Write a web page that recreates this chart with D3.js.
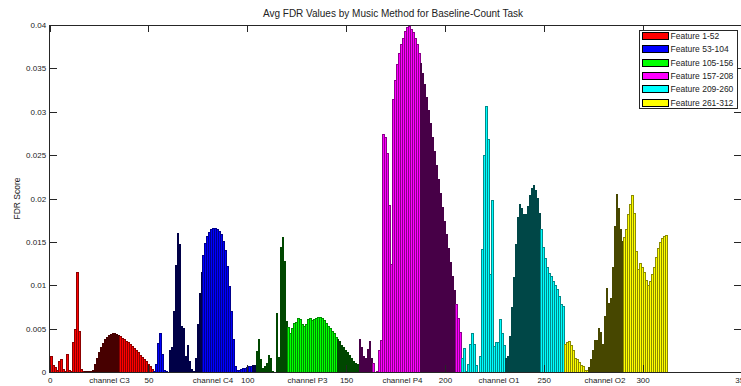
<!DOCTYPE html>
<html>
<head>
<meta charset="utf-8">
<script src="https://cdn.jsdelivr.net/npm/d3@7"></script>
<style>
  body { margin: 0; background: #fff; }
  text { font-family: "Liberation Sans", Arial, sans-serif; fill: #222; }
</style>
</head>
<body>
<div id="chart"></div>
<script>
// FDR score per feature, 52 features per channel
const c3 = [0.0018, 0.0007, 0.0005, 0.0002, 0.0012, 0.0014, 0.0003, 0.0001, 0.0020, 0.0002,
  0.0001, 0.0034, 0.0049, 0.0115, 0.0047, 0.0003, 0.0001, 0.00005, 0.0001, 0.00005,
  0.0001, 0.0002, 0.0009, 0.0016, 0.0023, 0.0028, 0.0033, 0.0037, 0.0040, 0.0042,
  0.00435, 0.00445, 0.0044, 0.0043, 0.0042, 0.00405, 0.0039, 0.00375, 0.00355, 0.00335,
  0.00315, 0.0029, 0.0027, 0.00245, 0.0022, 0.00195, 0.0017, 0.00145, 0.0012, 0.0009,
  0.0006, 0.0003];
const c4 = [0.0001, 0.0009, 0.0033, 0.0044, 0.0020, 0.0002, 0.0001, 0.0000, 0.0025, 0.0028,
  0.0070, 0.0123, 0.0160, 0.0147, 0.0052, 0.0050, 0.0018, 0.0030, 0.0012, 0.0003,
  0.0001, 0.0015, 0.0055, 0.0090, 0.0115, 0.0134, 0.0148, 0.0156, 0.0161, 0.0164,
  0.0165, 0.0165, 0.0164, 0.0162, 0.0158, 0.0151, 0.0140, 0.0122, 0.0098, 0.0070,
  0.0038, 0.0006, 0.00015, 0.0002, 0.0003, 0.00035, 0.0004, 0.0005, 0.0006, 0.00065,
  0.0007, 0.0007];
const p3 = [0.0024, 0.0037, 0.0014, 0.0004, 0.0006, 0.0010, 0.0019, 0.0015, 0.0001, 0.0000,
  0.0068, 0.0017, 0.0143, 0.0155, 0.0127, 0.0058, 0.0051, 0.0044, 0.0050, 0.0056,
  0.0057, 0.0062, 0.0061, 0.0055, 0.0053, 0.0055, 0.0060, 0.0062, 0.0059, 0.0060,
  0.0062, 0.0063, 0.0063, 0.0062, 0.0059, 0.0056, 0.0053, 0.0050, 0.0047, 0.0044,
  0.0040, 0.0038, 0.0035, 0.0031, 0.0028, 0.0025, 0.0022, 0.0019, 0.0016, 0.0012,
  0.0010, 0.0009];
const p4 = [0.0038, 0.0028, 0.0018, 0.0015, 0.0026, 0.0035, 0.0016, 0.0010, 0.0000, 0.0001,
  0.0025, 0.0036, 0.0274, 0.0270, 0.0252, 0.0192, 0.0124, 0.0314, 0.0336, 0.0354,
  0.0367, 0.0377, 0.0385, 0.0392, 0.0397, 0.0398, 0.0395, 0.0391, 0.0385, 0.0377,
  0.0367, 0.0356, 0.0344, 0.0331, 0.0317, 0.0302, 0.0286, 0.0270, 0.0254, 0.0238,
  0.0222, 0.0206, 0.0190, 0.0174, 0.0158, 0.0142, 0.0126, 0.0110, 0.0094, 0.0078,
  0.0062, 0.0045];
const o1 = [0.0016, 0.0027, 0.0001, 0.0009, 0.0032, 0.0044, 0.0032, 0.0008, 0.0000, 0.0018,
  0.0141, 0.0250, 0.0306, 0.0268, 0.0112, 0.0198, 0.0029, 0.0034, 0.0034, 0.0060,
  0.0044, 0.0031, 0.0016, 0.0018, 0.0041, 0.0074, 0.0109, 0.0147, 0.0178, 0.0193,
  0.0189, 0.0181, 0.0182, 0.0191, 0.0204, 0.0212, 0.0215, 0.0209, 0.0200, 0.0183,
  0.0164, 0.0143, 0.0131, 0.0120, 0.0114, 0.0110, 0.0104, 0.0100, 0.0095, 0.0087,
  0.0078, 0.0076];
const o2 = [0.0032, 0.0034, 0.0035, 0.0031, 0.0025, 0.0016, 0.0014, 0.0011, 0.0008, 0.0006,
  0.00015, 0.00015, 0.0005, 0.0014, 0.0025, 0.0036, 0.0036, 0.0050, 0.0045, 0.0032,
  0.0064, 0.0096, 0.0079, 0.0085, 0.0120, 0.0168, 0.0205, 0.0188, 0.0164, 0.0150,
  0.0155, 0.0164, 0.0181, 0.0193, 0.0204, 0.0183, 0.0139, 0.0118, 0.0125, 0.0121,
  0.0115, 0.0106, 0.0100, 0.0104, 0.0112, 0.0121, 0.0132, 0.0142, 0.0149, 0.0154,
  0.0156, 0.0157];

const channels = ["channel C3", "channel C4", "channel P3", "channel P4", "channel O1", "channel O2"];
const channelPos = [30.3, 82.7, 130.5, 178.5, 227.4, 281];
const legendLabels = ["Feature 1-52", "Feature 53-104", "Feature 105-156",
  "Feature 157-208", "Feature 209-260", "Feature 261-312"];
const colors = ["#ff0000", "#0000ff", "#00ff00", "#ff00ff", "#00ffff", "#ffff00"];
const xTicks = [0, 50, 100, 150, 200, 250, 300, 350];
const yTicks = [0, 0.005, 0.01, 0.015, 0.02, 0.025, 0.03, 0.035, 0.04];

const width = 741, height = 386;

const svg = d3.select("#chart").append("svg")
  .attr("width", width)
  .attr("height", height);

// right edge of the axes falls just outside the window, as in the reference
const x = d3.scaleLinear().domain([0, 350]).range([49.62, 741.4]);
const y = d3.scaleLinear().domain([0, 0.04]).range([372, 25]);

const series = [c3, c4, p3, p4, o1, o2];
const bars = series.flatMap((s, g) => s.map((v, j) => ({ idx: g * 52 + j + 1, value: v, group: g })));

// matlab draws the bars without anti-aliasing: snap every edge to a whole pixel
const base = Math.round(y(0));
bars.forEach(d => {
  d.L = Math.floor(x(d.idx - 0.4));
  d.R = Math.floor(x(d.idx + 0.4));
  d.T = Math.min(base, Math.floor(y(d.value)));
});
// the screenshot is a bit soft, so the black edges pick up some of the bar colour
const edgeColor = (c, k) => {
  const r = d3.rgb(c);
  return d3.rgb(r.r * k, r.g * k, r.b * k).formatHex();
};

const cells = svg.append("g")
  .attr("shape-rendering", "crispEdges")
  .selectAll("g")
  .data(bars)
  .join("g");
cells.append("rect")
  .attr("x", d => d.L)
  .attr("width", d => d.R - d.L + 1)
  .attr("y", d => d.T)
  .attr("height", d => base - d.T)
  .attr("fill", d => edgeColor(colors[d.group], d.R - d.L > 1 ? 0.55 : 0.28));
cells.filter(d => d.R - d.L > 1 && base - d.T > 1)
  .append("rect")
  .attr("x", d => d.L + 1)
  .attr("width", d => d.R - d.L - 1)
  .attr("y", d => d.T + 1)
  .attr("height", d => base - d.T - 1)
  .attr("fill", d => colors[d.group]);

// ticks point inward on all four sides
const tickLen = -7;
const styleAxis = g => {
  g.select(".domain").remove();
  g.selectAll("line").attr("stroke", "#262626").attr("shape-rendering", "crispEdges");
  g.selectAll("text").attr("font-size", 8).attr("fill", "#222");
};

svg.append("g")
  .attr("transform", `translate(0,${y(0)})`)
  .call(d3.axisBottom(x).tickValues(xTicks).tickSize(tickLen).tickPadding(5.3).tickFormat(d3.format("d")))
  .call(styleAxis);
svg.append("g")
  .attr("transform", `translate(0,${y(0.04)})`)
  .call(d3.axisTop(x).tickValues(xTicks).tickSize(tickLen).tickFormat(""))
  .call(styleAxis);
svg.append("g")
  .attr("transform", `translate(${x(0)},0)`)
  .call(d3.axisLeft(y).tickValues(yTicks).tickSize(tickLen).tickPadding(3.5).tickFormat(d3.format("~g")))
  .call(styleAxis);
svg.append("g")
  .attr("transform", `translate(${x(350)},0)`)
  .call(d3.axisRight(y).tickValues(yTicks).tickSize(tickLen).tickFormat(""))
  .call(styleAxis);

// axes box
svg.append("rect")
  .attr("x", Math.floor(x(0)) + 0.5)
  .attr("y", y(0.04) + 0.5)
  .attr("width", Math.floor(x(350)) - Math.floor(x(0)))
  .attr("height", y(0) - y(0.04))
  .attr("fill", "none")
  .attr("stroke", "#262626")
  .attr("shape-rendering", "crispEdges");

// channel names under the axis
svg.append("g")
  .selectAll("text")
  .data(channels)
  .join("text")
  .attr("x", (d, i) => x(channelPos[i]))
  .attr("y", 383)
  .attr("text-anchor", "middle")
  .attr("font-size", 8)
  .text(d => d);

svg.append("text")
  .attr("x", 393)
  .attr("y", 16.5)
  .attr("text-anchor", "middle")
  .attr("font-size", 10)
  .text("Avg FDR Values by Music Method for Baseline-Count Task");

svg.append("text")
  .attr("transform", `translate(19.5,${(y(0) + y(0.04)) / 2}) rotate(-90)`)
  .attr("text-anchor", "middle")
  .attr("font-size", 8.5)
  .text("FDR Score");

// legend
const legend = svg.append("g").attr("transform", "translate(639,30)");
legend.append("rect")
  .attr("x", 0.5)
  .attr("y", 0.5)
  .attr("width", 98)
  .attr("height", 78)
  .attr("fill", "#fff")
  .attr("stroke", "#262626")
  .attr("shape-rendering", "crispEdges");
const items = legend.selectAll("g.item")
  .data(legendLabels)
  .join("g")
  .attr("class", "item")
  .attr("transform", (d, i) => `translate(0,${6 + i * 13.3})`);
items.append("rect")
  .attr("x", 3.5)
  .attr("y", -3.5)
  .attr("width", 26)
  .attr("height", 7)
  .attr("fill", (d, i) => colors[i])
  .attr("stroke", "#000")
  .attr("shape-rendering", "crispEdges");
items.append("text")
  .attr("x", 31.5)
  .attr("y", 3)
  .attr("font-size", 8.5)
  .text(d => d);
</script>
</body>
</html>
